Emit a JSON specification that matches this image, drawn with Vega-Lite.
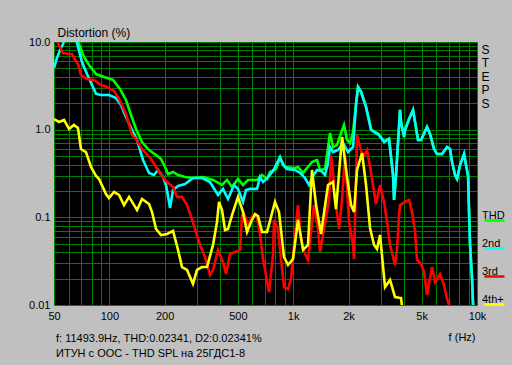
{
"$schema": "https://vega.github.io/schema/vega-lite/v6.json",
"width": 423, "height": 263,
"autosize": {"type": "none"},
"padding": {"left": 54, "top": 42, "right": 35, "bottom": 60},
"background": "#c0c0c0",
"config": {"view": {"fill": "#000000", "stroke": null}, "font": "Liberation Sans"},
"title": {"text": "f: 11493.9Hz,  THD:0.02341,  D2:0.02341%", "subtitle": "ИТУН с ООС - THD SPL на 25ГДС1-8", "orient": "bottom", "anchor": "start", "frame": "group", "offset": -9, "dx": 2, "fontSize": 11, "fontWeight": "normal", "color": "#000000", "subtitleFontSize": 11, "subtitleColor": "#000000", "subtitlePadding": 4, "font": "Liberation Sans", "subtitleFont": "Liberation Sans"},
"datasets": {"d": [
{"s":"THD","f":64.2,"v":13.7},{"s":"THD","f":68.3,"v":9.49},{"s":"THD","f":72.8,"v":6.75},{"s":"THD","f":77.5,"v":5.47},{"s":"THD","f":84.7,"v":4.31},{"s":"THD","f":93.6,"v":3.99},{"s":"THD","f":104.7,"v":3.69},{"s":"THD","f":114.3,"v":2.91},{"s":"THD","f":123.2,"v":2.18},{"s":"THD","f":131.2,"v":1.47},{"s":"THD","f":139.7,"v":1.017},{"s":"THD","f":150.6,"v":0.723},{"s":"THD","f":164.4,"v":0.586},{"s":"THD","f":179.5,"v":0.514},{"s":"THD","f":191.1,"v":0.463},{"s":"THD","f":200.9,"v":0.375},{"s":"THD","f":208.6,"v":0.312},{"s":"THD","f":222.1,"v":0.329},{"s":"THD","f":236.4,"v":0.304},{"s":"THD","f":258.1,"v":0.288},{"s":"THD","f":285.2,"v":0.281},{"s":"THD","f":323.3,"v":0.288},{"s":"THD","f":366.4,"v":0.267},{"s":"THD","f":410.2,"v":0.234},{"s":"THD","f":436.6,"v":0.267},{"s":"THD","f":464.9,"v":0.222},{"s":"THD","f":501.2,"v":0.274},{"s":"THD","f":533.6,"v":0.234},{"s":"THD","f":568.1,"v":0.267},{"s":"THD","f":635.9,"v":0.267},{"s":"THD","f":677.0,"v":0.304},{"s":"THD","f":720.8,"v":0.274},{"s":"THD","f":748.3,"v":0.329},{"s":"THD","f":806.6,"v":0.356},{"s":"THD","f":848.1,"v":0.475},{"s":"THD","f":902.9,"v":0.375},{"s":"THD","f":1023,"v":0.365},{"s":"THD","f":1062,"v":0.375},{"s":"THD","f":1132,"v":0.321},{"s":"THD","f":1266,"v":0.428},{"s":"THD","f":1348,"v":0.451},{"s":"THD","f":1400,"v":0.347},{"s":"THD","f":1490,"v":0.356},{"s":"THD","f":1587,"v":0.916},{"s":"THD","f":1648,"v":0.634},{"s":"THD","f":1732,"v":0.668},{"s":"THD","f":1822,"v":0.916},{"s":"THD","f":1891,"v":1.13},{"s":"THD","f":1964,"v":0.762},{"s":"THD","f":2039,"v":0.704},{"s":"THD","f":2117,"v":0.94},{"s":"THD","f":2197,"v":1.95},{"s":"THD","f":2253,"v":3.07},{"s":"THD","f":2340,"v":2.7},{"s":"THD","f":2491,"v":1.83},{"s":"THD","f":2652,"v":1.01},{"s":"THD","f":2754,"v":0.96},{"s":"THD","f":2931,"v":0.885},{"s":"THD","f":3122,"v":0.735},{"s":"THD","f":3322,"v":0.79},{"s":"THD","f":3407,"v":0.488},{"s":"THD","f":3494,"v":0.304},{"s":"THD","f":3538,"v":0.158},{"s":"THD","f":3627,"v":0.304},{"s":"THD","f":3673,"v":0.463},{"s":"THD","f":3814,"v":1.68},{"s":"THD","f":3862,"v":1.224},{"s":"THD","f":4010,"v":0.825},{"s":"THD","f":4060,"v":0.991},{"s":"THD","f":4269,"v":1.323},{"s":"THD","f":4489,"v":1.68},{"s":"THD","f":4602,"v":1.224},{"s":"THD","f":4778,"v":0.762},{"s":"THD","f":4962,"v":0.762},{"s":"THD","f":5348,"v":1.072},{"s":"THD","f":5553,"v":0.892},{"s":"THD","f":5838,"v":0.601},{"s":"THD","f":6063,"v":0.527},{"s":"THD","f":6455,"v":0.527},{"s":"THD","f":6872,"v":0.634},{"s":"THD","f":7135,"v":0.601},{"s":"THD","f":7316,"v":0.428},{"s":"THD","f":7596,"v":0.304},{"s":"THD","f":7789,"v":0.274},{"s":"THD","f":8088,"v":0.395},{"s":"THD","f":8504,"v":0.527},{"s":"THD","f":8718,"v":0.395},{"s":"THD","f":8940,"v":0.296},{"s":"THD","f":9053,"v":0.115},{"s":"THD","f":9168,"v":0.0484},{"s":"THD","f":9401,"v":0.0198},{"s":"THD","f":9519,"v":0.01},{"s":"THD","f":9640,"v":0.008},
{"s":"2nd","f":50,"v":5.05},{"s":"2nd","f":51.9,"v":6.57},{"s":"2nd","f":53.9,"v":8.1},{"s":"2nd","f":56.0,"v":9.49},{"s":"2nd","f":57.4,"v":11.1},{"s":"2nd","f":61.1,"v":13.7},{"s":"2nd","f":65.0,"v":12.0},{"s":"2nd","f":66.7,"v":9.74},{"s":"2nd","f":71.0,"v":5.91},{"s":"2nd","f":75.6,"v":4.31},{"s":"2nd","f":80.5,"v":3.23},{"s":"2nd","f":84.7,"v":2.56},{"s":"2nd","f":90.1,"v":2.49},{"s":"2nd","f":99.6,"v":2.49},{"s":"2nd","f":108.8,"v":2.3},{"s":"2nd","f":115.7,"v":1.91},{"s":"2nd","f":123.2,"v":1.395},{"s":"2nd","f":132.9,"v":0.991},{"s":"2nd","f":141.5,"v":0.762},{"s":"2nd","f":152.5,"v":0.451},{"s":"2nd","f":164.4,"v":0.321},{"s":"2nd","f":175.1,"v":0.304},{"s":"2nd","f":184.1,"v":0.347},{"s":"2nd","f":195.9,"v":0.288},{"s":"2nd","f":203.4,"v":0.234},{"s":"2nd","f":213.9,"v":0.1275},{"s":"2nd","f":222.1,"v":0.205},{"s":"2nd","f":236.4,"v":0.228},{"s":"2nd","f":258.1,"v":0.24},{"s":"2nd","f":285.2,"v":0.281},{"s":"2nd","f":319.3,"v":0.281},{"s":"2nd","f":352.9,"v":0.253},{"s":"2nd","f":390.1,"v":0.18},{"s":"2nd","f":415.3,"v":0.211},{"s":"2nd","f":442.1,"v":0.162},{"s":"2nd","f":476.7,"v":0.234},{"s":"2nd","f":501.2,"v":0.211},{"s":"2nd","f":533.6,"v":0.15},{"s":"2nd","f":554.0,"v":0.205},{"s":"2nd","f":582.5,"v":0.211},{"s":"2nd","f":635.9,"v":0.211},{"s":"2nd","f":660.2,"v":0.288},{"s":"2nd","f":685.5,"v":0.253},{"s":"2nd","f":729.8,"v":0.288},{"s":"2nd","f":777.0,"v":0.338},{"s":"2nd","f":816.8,"v":0.417},{"s":"2nd","f":848.1,"v":0.488},{"s":"2nd","f":880.6,"v":0.395},{"s":"2nd","f":925.8,"v":0.356},{"s":"2nd","f":1023,"v":0.347},{"s":"2nd","f":1090,"v":0.321},{"s":"2nd","f":1160,"v":0.281},{"s":"2nd","f":1220,"v":0.234},{"s":"2nd","f":1282,"v":0.296},{"s":"2nd","f":1348,"v":0.347},{"s":"2nd","f":1418,"v":0.338},{"s":"2nd","f":1490,"v":0.304},{"s":"2nd","f":1547,"v":0.417},{"s":"2nd","f":1587,"v":0.634},{"s":"2nd","f":1648,"v":0.556},{"s":"2nd","f":1754,"v":0.586},{"s":"2nd","f":1868,"v":0.704},{"s":"2nd","f":1988,"v":0.556},{"s":"2nd","f":2117,"v":0.634},{"s":"2nd","f":2197,"v":1.91},{"s":"2nd","f":2253,"v":3.07},{"s":"2nd","f":2340,"v":2.7},{"s":"2nd","f":2491,"v":1.81},{"s":"2nd","f":2652,"v":0.991},{"s":"2nd","f":2754,"v":0.94},{"s":"2nd","f":2931,"v":0.869},{"s":"2nd","f":3122,"v":0.723},{"s":"2nd","f":3322,"v":0.782},{"s":"2nd","f":3407,"v":0.488},{"s":"2nd","f":3494,"v":0.304},{"s":"2nd","f":3538,"v":0.158},{"s":"2nd","f":3627,"v":0.304},{"s":"2nd","f":3673,"v":0.463},{"s":"2nd","f":3814,"v":1.68},{"s":"2nd","f":3862,"v":1.224},{"s":"2nd","f":4010,"v":0.825},{"s":"2nd","f":4060,"v":0.991},{"s":"2nd","f":4269,"v":1.323},{"s":"2nd","f":4489,"v":1.68},{"s":"2nd","f":4602,"v":1.224},{"s":"2nd","f":4778,"v":0.762},{"s":"2nd","f":4962,"v":0.762},{"s":"2nd","f":5348,"v":1.072},{"s":"2nd","f":5553,"v":0.892},{"s":"2nd","f":5838,"v":0.601},{"s":"2nd","f":6063,"v":0.527},{"s":"2nd","f":6455,"v":0.527},{"s":"2nd","f":6872,"v":0.634},{"s":"2nd","f":7135,"v":0.601},{"s":"2nd","f":7316,"v":0.428},{"s":"2nd","f":7596,"v":0.304},{"s":"2nd","f":7789,"v":0.274},{"s":"2nd","f":8088,"v":0.395},{"s":"2nd","f":8504,"v":0.527},{"s":"2nd","f":8718,"v":0.395},{"s":"2nd","f":8940,"v":0.296},{"s":"2nd","f":9053,"v":0.115},{"s":"2nd","f":9168,"v":0.0484},{"s":"2nd","f":9401,"v":0.0198},{"s":"2nd","f":9519,"v":0.01},{"s":"2nd","f":9640,"v":0.008},
{"s":"3rd","f":50.6,"v":13.7},{"s":"3rd","f":52.5,"v":9.74},{"s":"3rd","f":56.0,"v":7.48},{"s":"3rd","f":60.4,"v":7.29},{"s":"3rd","f":62.7,"v":7.29},{"s":"3rd","f":65.8,"v":6.07},{"s":"3rd","f":67.5,"v":5.61},{"s":"3rd","f":70.1,"v":4.2},{"s":"3rd","f":75.6,"v":3.78},{"s":"3rd","f":82.5,"v":3.69},{"s":"3rd","f":90.1,"v":3.23},{"s":"3rd","f":97.1,"v":3.07},{"s":"3rd","f":106.0,"v":2.77},{"s":"3rd","f":112.9,"v":2.24},{"s":"3rd","f":123.2,"v":1.51},{"s":"3rd","f":132.9,"v":0.869},{"s":"3rd","f":139.7,"v":0.782},{"s":"3rd","f":150.6,"v":0.601},{"s":"3rd","f":168.6,"v":0.463},{"s":"3rd","f":179.5,"v":0.375},{"s":"3rd","f":191.1,"v":0.304},{"s":"3rd","f":206.0,"v":0.253},{"s":"3rd","f":222.1,"v":0.222},{"s":"3rd","f":233.5,"v":0.171},{"s":"3rd","f":248.6,"v":0.171},{"s":"3rd","f":264.7,"v":0.138},{"s":"3rd","f":281.7,"v":0.0954},{"s":"3rd","f":292.5,"v":0.0736},{"s":"3rd","f":311.4,"v":0.0484},{"s":"3rd","f":331.5,"v":0.0353},{"s":"3rd","f":352.9,"v":0.022},{"s":"3rd","f":366.4,"v":0.0251},{"s":"3rd","f":390.1,"v":0.0425},{"s":"3rd","f":415.3,"v":0.0309},{"s":"3rd","f":431.2,"v":0.0226},{"s":"3rd","f":453.4,"v":0.0383},{"s":"3rd","f":482.7,"v":0.0403},{"s":"3rd","f":513.9,"v":0.0425},{"s":"3rd","f":527.0,"v":0.106},{"s":"3rd","f":540.3,"v":0.109},{"s":"3rd","f":568.1,"v":0.084},{"s":"3rd","f":604.8,"v":0.106},{"s":"3rd","f":635.9,"v":0.1006},{"s":"3rd","f":660.2,"v":0.0646},{"s":"3rd","f":685.5,"v":0.0335},{"s":"3rd","f":711.8,"v":0.022},{"s":"3rd","f":739.0,"v":0.014},{"s":"3rd","f":777.0,"v":0.0372},{"s":"3rd","f":786.8,"v":0.0933},{"s":"3rd","f":827.1,"v":0.0736},{"s":"3rd","f":858.8,"v":0.0335},{"s":"3rd","f":891.7,"v":0.016},{"s":"3rd","f":937.5,"v":0.0152},{"s":"3rd","f":973.4,"v":0.0198},{"s":"3rd","f":1010.7,"v":0.0484},{"s":"3rd","f":1062,"v":0.138},{"s":"3rd","f":1104,"v":0.0566},{"s":"3rd","f":1146,"v":0.0403},{"s":"3rd","f":1204,"v":0.0326},{"s":"3rd","f":1251,"v":0.0681},{"s":"3rd","f":1298,"v":0.138},{"s":"3rd","f":1365,"v":0.0736},{"s":"3rd","f":1400,"v":0.0403},{"s":"3rd","f":1472,"v":0.0736},{"s":"3rd","f":1567,"v":0.158},{"s":"3rd","f":1607,"v":0.514},{"s":"3rd","f":1648,"v":0.329},{"s":"3rd","f":1669,"v":0.205},{"s":"3rd","f":1776,"v":0.0736},{"s":"3rd","f":1845,"v":0.162},{"s":"3rd","f":1915,"v":0.514},{"s":"3rd","f":2013,"v":0.0885},{"s":"3rd","f":2117,"v":0.0484},{"s":"3rd","f":2144,"v":0.0335},{"s":"3rd","f":2170,"v":0.0954},{"s":"3rd","f":2225,"v":0.869},{"s":"3rd","f":2311,"v":0.634},{"s":"3rd","f":2400,"v":0.488},{"s":"3rd","f":2523,"v":0.586},{"s":"3rd","f":2619,"v":0.375},{"s":"3rd","f":2686,"v":0.274},{"s":"3rd","f":2823,"v":0.142},{"s":"3rd","f":2969,"v":0.234},{"s":"3rd","f":3122,"v":0.15},{"s":"3rd","f":3240,"v":0.0885},{"s":"3rd","f":3365,"v":0.0484},{"s":"3rd","f":3582,"v":0.0286},{"s":"3rd","f":3673,"v":0.0436},{"s":"3rd","f":3766,"v":0.106},{"s":"3rd","f":3814,"v":0.138},{"s":"3rd","f":4060,"v":0.15},{"s":"3rd","f":4269,"v":0.158},{"s":"3rd","f":4433,"v":0.115},{"s":"3rd","f":4602,"v":0.0681},{"s":"3rd","f":4719,"v":0.0326},{"s":"3rd","f":4962,"v":0.0293},{"s":"3rd","f":5152,"v":0.0238},{"s":"3rd","f":5348,"v":0.013},{"s":"3rd","f":5694,"v":0.0271},{"s":"3rd","f":5913,"v":0.0183},{"s":"3rd","f":6295,"v":0.0226},{"s":"3rd","f":6619,"v":0.0169},{"s":"3rd","f":6872,"v":0.0117},{"s":"3rd","f":7047,"v":0.01},{"s":"3rd","f":7135,"v":0.0088},
{"s":"4th+","f":50,"v":1.323},{"s":"4th+","f":53.2,"v":1.224},{"s":"4th+","f":56.7,"v":1.29},{"s":"4th+","f":60.4,"v":1.017},{"s":"4th+","f":64.2,"v":1.13},{"s":"4th+","f":67.5,"v":1.044},{"s":"4th+","f":70.1,"v":0.601},{"s":"4th+","f":74.6,"v":0.556},{"s":"4th+","f":79.5,"v":0.375},{"s":"4th+","f":84.7,"v":0.296},{"s":"4th+","f":87.9,"v":0.274},{"s":"4th+","f":95.9,"v":0.1845},{"s":"4th+","f":99.6,"v":0.166},{"s":"4th+","f":106.0,"v":0.1945},{"s":"4th+","f":112.9,"v":0.18},{"s":"4th+","f":120.2,"v":0.138},{"s":"4th+","f":128.0,"v":0.171},{"s":"4th+","f":141.5,"v":0.121},{"s":"4th+","f":150.6,"v":0.162},{"s":"4th+","f":164.4,"v":0.142},{"s":"4th+","f":170.7,"v":0.115},{"s":"4th+","f":179.5,"v":0.0736},{"s":"4th+","f":191.1,"v":0.0629},{"s":"4th+","f":206.0,"v":0.0646},{"s":"4th+","f":222.1,"v":0.0699},{"s":"4th+","f":236.4,"v":0.0425},{"s":"4th+","f":248.6,"v":0.0271},{"s":"4th+","f":264.7,"v":0.0251},{"s":"4th+","f":285.2,"v":0.0174},{"s":"4th+","f":299.9,"v":0.0251},{"s":"4th+","f":319.3,"v":0.0271},{"s":"4th+","f":339.9,"v":0.0271},{"s":"4th+","f":366.4,"v":0.0484},{"s":"4th+","f":385.2,"v":0.0885},{"s":"4th+","f":395.0,"v":0.15},{"s":"4th+","f":410.2,"v":0.121},{"s":"4th+","f":425.8,"v":0.0718},{"s":"4th+","f":442.1,"v":0.0736},{"s":"4th+","f":464.9,"v":0.106},{"s":"4th+","f":501.2,"v":0.171},{"s":"4th+","f":533.6,"v":0.115},{"s":"4th+","f":561.0,"v":0.0681},{"s":"4th+","f":589.8,"v":0.0885},{"s":"4th+","f":620.1,"v":0.109},{"s":"4th+","f":643.9,"v":0.1032},{"s":"4th+","f":677.0,"v":0.0681},{"s":"4th+","f":720.8,"v":0.0681},{"s":"4th+","f":796.6,"v":0.15},{"s":"4th+","f":837.5,"v":0.115},{"s":"4th+","f":891.7,"v":0.0353},{"s":"4th+","f":937.5,"v":0.0286},{"s":"4th+","f":998.1,"v":0.0335},{"s":"4th+","f":1062,"v":0.0933},{"s":"4th+","f":1132,"v":0.0425},{"s":"4th+","f":1204,"v":0.0484},{"s":"4th+","f":1266,"v":0.347},{"s":"4th+","f":1332,"v":0.138},{"s":"4th+","f":1418,"v":0.0646},{"s":"4th+","f":1547,"v":0.234},{"s":"4th+","f":1648,"v":0.253},{"s":"4th+","f":1710,"v":0.124},{"s":"4th+","f":1845,"v":0.825},{"s":"4th+","f":1964,"v":0.288},{"s":"4th+","f":2065,"v":0.138},{"s":"4th+","f":2144,"v":0.115},{"s":"4th+","f":2225,"v":0.347},{"s":"4th+","f":2370,"v":0.541},{"s":"4th+","f":2491,"v":0.234},{"s":"4th+","f":2619,"v":0.0756},{"s":"4th+","f":2754,"v":0.0484},{"s":"4th+","f":2859,"v":0.0436},{"s":"4th+","f":2969,"v":0.0629},{"s":"4th+","f":3160,"v":0.016},{"s":"4th+","f":3365,"v":0.0193},{"s":"4th+","f":3582,"v":0.0123},{"s":"4th+","f":3862,"v":0.012},{"s":"4th+","f":3911,"v":0.0095}
]},
"data": {"name": "d"},
"encoding": {
  "x": {"field": "f", "type": "quantitative", "scale": {"type": "log", "domain": [50, 10000], "nice": false},
    "axis": {"values": [50,60,70,80,90,100,200,300,400,500,600,700,800,900,1000,2000,3000,4000,5000,6000,7000,8000,9000,10000],
      "labelExpr": "datum.value == 50 ? '50' : datum.value == 100 ? '100' : datum.value == 200 ? '200' : datum.value == 500 ? '500' : datum.value == 1000 ? '1k' : datum.value == 2000 ? '2k' : datum.value == 5000 ? '5k' : datum.value == 10000 ? '10k' : ''",
      "grid": true, "gridColor": "#008000", "gridWidth": 1, "gridOpacity": 1, "ticks": false, "domain": false,
      "labelFontSize": 11, "labelColor": "#000000", "labelPadding": 5, "labelOverlap": false, "labelFlush": false, "labelFont": "Liberation Sans",
      "title": "f (Hz)", "titleFontSize": 11, "titleFontWeight": "normal", "titleColor": "#000000", "titleFont": "Liberation Sans", "titleAnchor": "end", "titleAlign": "right", "titleX": 421, "titleY": 35, "titleBaseline": "alphabetic"}}
},
"layer": [
  {"mark": {"type": "line", "clip": true, "strokeWidth": 2.6},
   "encoding": {
     "y": {"field": "v", "type": "quantitative", "scale": {"type": "log", "domain": [0.01, 10], "nice": false},
       "axis": {"orient": "left", "values": [0.01,0.02,0.03,0.04,0.05,0.06,0.07,0.08,0.09,0.1,0.2,0.3,0.4,0.5,0.6,0.7,0.8,0.9,1,2,3,4,5,6,7,8,9,10],
         "labelExpr": "datum.value == 10 ? '10.0' : datum.value == 1 ? '1.0' : datum.value == 0.1 ? '0.1' : datum.value == 0.01 ? '0.01' : ''",
         "grid": true, "gridColor": "#008000", "gridWidth": 1, "gridOpacity": 1, "ticks": false, "domain": false,
         "labelFontSize": 11, "labelColor": "#000000", "labelPadding": 4, "labelOverlap": false, "labelFlush": false, "labelFont": "Liberation Sans",
         "title": "Distortion (%)", "titleAngle": 0, "titleAlign": "left", "titleBaseline": "alphabetic", "titleX": 3, "titleY": -6, "titleFontSize": 12, "titleFontWeight": "normal", "titleColor": "#000000", "titleFont": "Liberation Sans"}},
     "color": {"field": "s", "type": "nominal", "sort": null,
       "scale": {"domain": ["THD","2nd","3rd","4th+"], "range": ["#00ff00","#00ffff","#ff0000","#ffff00"]},
       "legend": {"orient": "none", "legendX": 429, "legendY": 167, "title": null, "symbolType": "stroke", "symbolSize": 400, "symbolStrokeWidth": 2.5, "labelOffset": -24, "labelBaseline": "bottom", "labelFontSize": 11, "labelColor": "#000000", "labelFont": "Liberation Sans", "rowPadding": 11, "padding": 0, "symbolOffset": 0}}
   }},
  {"mark": {"type": "point", "opacity": 0},
   "encoding": {
     "y": {"field": "v", "type": "quantitative",
       "axis": {"orient": "right", "grid": false, "labels": false, "ticks": false, "domain": false,
         "title": ["S","T","E","P","S"], "titleAngle": 0, "titleX": 8, "titleY": 2, "titleAlign": "center", "titleBaseline": "top", "titleFontSize": 12, "titleLineHeight": 13.5, "titleFontWeight": "normal", "titleColor": "#000000", "titleFont": "Liberation Sans"}}
   }}
],
"resolve": {"axis": {"y": "independent"}}
}
